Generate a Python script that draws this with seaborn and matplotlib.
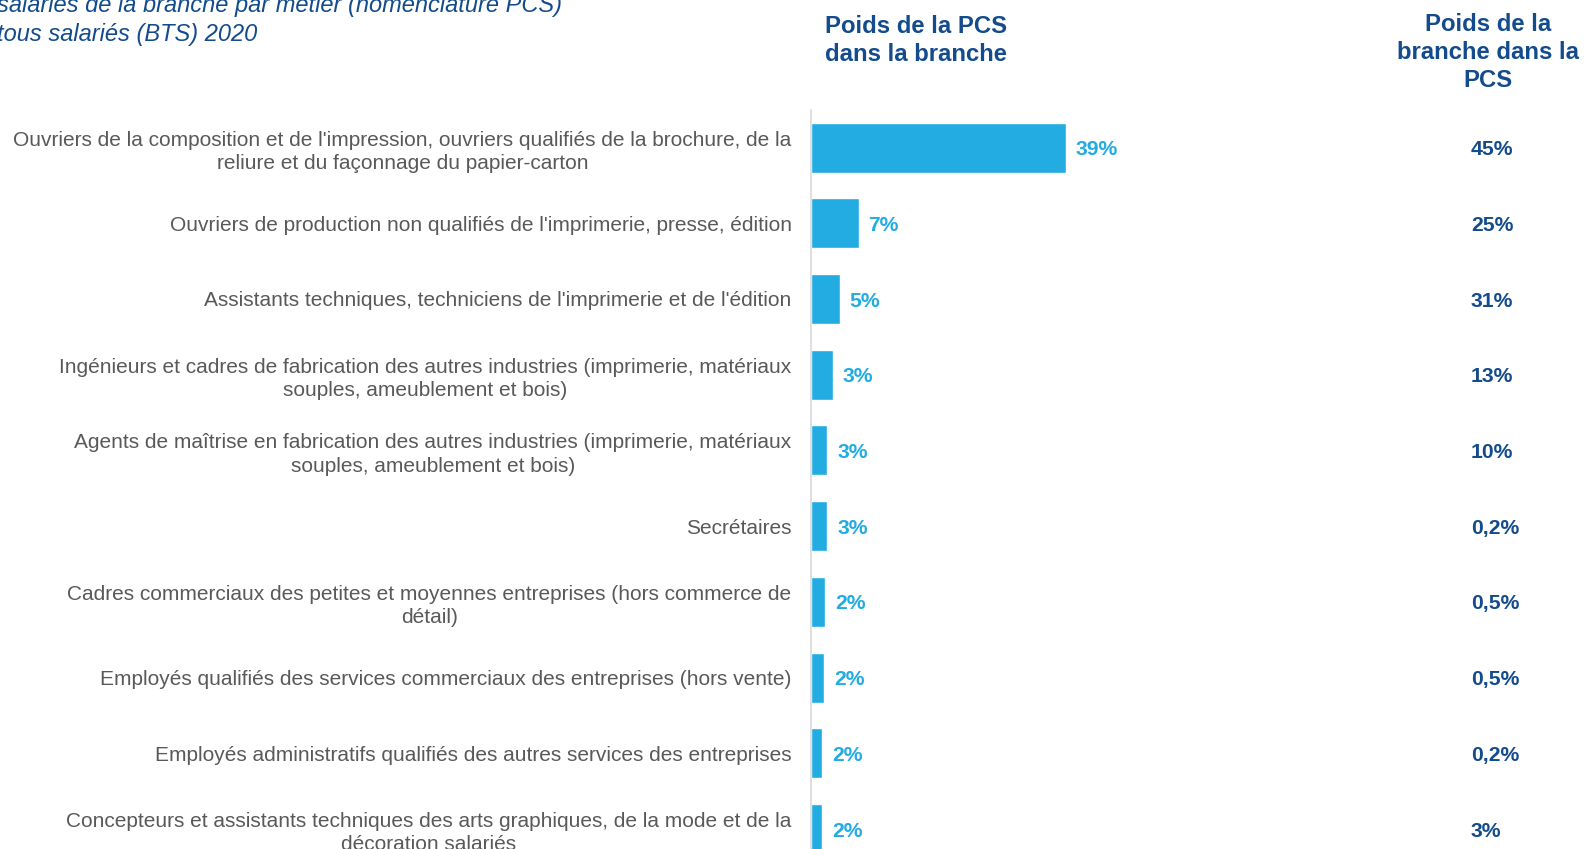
import matplotlib
matplotlib.use("Agg")
import matplotlib.pyplot as plt
import matplotlib.transforms as mtransforms
import seaborn as sns
import pandas as pd

categories = [
    "Ouvriers de la composition et de l'impression, ouvriers qualifiés de la brochure, de la\nreliure et du façonnage du papier-carton",
    "Ouvriers de production non qualifiés de l'imprimerie, presse, édition",
    "Assistants techniques, techniciens de l'imprimerie et de l'édition",
    "Ingénieurs et cadres de fabrication des autres industries (imprimerie, matériaux\nsouples, ameublement et bois)",
    "Agents de maîtrise en fabrication des autres industries (imprimerie, matériaux\nsouples, ameublement et bois)",
    "Secrétaires",
    "Cadres commerciaux des petites et moyennes entreprises (hors commerce de\ndétail)",
    "Employés qualifiés des services commerciaux des entreprises (hors vente)",
    "Employés administratifs qualifiés des autres services des entreprises",
    "Concepteurs et assistants techniques des arts graphiques, de la mode et de la\ndécoration salariés",
]
poids_pcs_branche = [38.9, 7.3, 4.4, 3.3, 2.5, 2.5, 2.2, 2.0, 1.7, 1.7]
labels_pcs_branche = ["39%", "7%", "5%", "3%", "3%", "3%", "2%", "2%", "2%", "2%"]
labels_branche_pcs = ["45%", "25%", "31%", "13%", "10%", "0,2%", "0,5%", "0,5%", "0,2%", "3%"]

title_text = "salariés de la branche par métier (nomenclature PCS)\ntous salariés (BTS) 2020"
header_1 = "Poids de la PCS\ndans la branche"
header_2 = "Poids de la\nbranche dans la\nPCS"

BAR = "#22ACE2"
DARK = "#134B8C"
GRAY = "#595959"

sns.set_style("white")
plt.rcParams["font.family"] = ["Liberation Sans", "DejaVu Sans"]

df = pd.DataFrame({"cat": categories, "val": poids_pcs_branche})

W, H = 1584, 849
fig = plt.figure(figsize=(W / 100, H / 100), dpi=100)
ax_left = 811 / W
ax_right = 1400 / W
ax_top = 1 - 109.7 / H
ax = fig.add_axes([ax_left, 0.0, ax_right - ax_left, ax_top])

sns.barplot(data=df, x="val", y="cat", orient="h", color=BAR, width=0.66,
            saturation=1, ax=ax)

ax.set_xlim(0, 589 / 6.555)
ax.set_ylim(9 + 20 / 75.7, -0.5)
ax.set_xlabel("")
ax.set_ylabel("")
ax.set_xticks([])
for s in ["top", "right", "bottom"]:
    ax.spines[s].set_visible(False)
ax.spines["left"].set_color("#d9d9d9")
ax.spines["left"].set_linewidth(1.2)
ax.tick_params(axis="y", length=0, pad=14, labelsize=15, labelcolor=GRAY)
for lab in ax.get_yticklabels():
    lab.set_multialignment("center")
    lab.set_linespacing(1.28)

for i, (v, t) in enumerate(zip(poids_pcs_branche, labels_pcs_branche)):
    ax.annotate(t, xy=(v, i), xytext=(7, -1.5), textcoords="offset points",
                ha="left", va="center", fontsize=15.2, fontweight="bold", color=BAR)

trans = mtransforms.blended_transform_factory(fig.transFigure, ax.transData)
for i, t in enumerate(labels_branche_pcs):
    ax.annotate(t, xy=(1471 / W, i), xycoords=trans, xytext=(0, -1.5),
                textcoords="offset points", ha="left", va="center",
                fontsize=15.2, fontweight="bold", color=DARK, annotation_clip=False)

fig.text(916 / W, 1 - 40.5 / H, header_1, ha="center", va="center",
         fontsize=17.2, fontweight="bold", color=DARK, linespacing=1.3)
fig.text(1488 / W, 1 - 52.5 / H, header_2, ha="center", va="center",
         fontsize=17.2, fontweight="bold", color=DARK, linespacing=1.3)
fig.text(-3 / W, 1 - 20 / H, title_text, ha="left", va="center",
         fontsize=17.0, style="italic", color=DARK, linespacing=1.32)

fig.savefig("out.png", dpi=100)
